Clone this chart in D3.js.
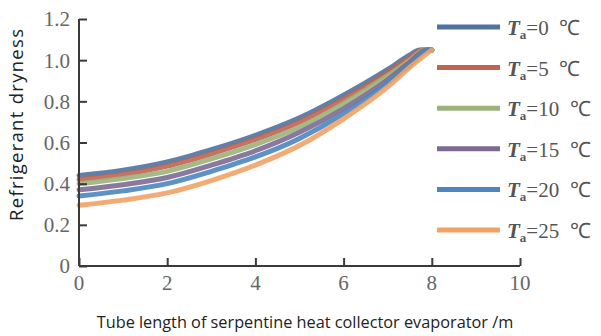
<!DOCTYPE html>
<html>
<head>
<meta charset="utf-8">
<script src="https://cdn.jsdelivr.net/npm/d3@7"></script>
<style>
  html, body { margin: 0; padding: 0; background: #fff; }
  svg { display: block; }
</style>
</head>
<body>
<svg id="chart" width="601" height="336"></svg>
<script>
// ─── Data ────────────────────────────────────────────────────────────
const xTicks = [0, 2, 4, 6, 8, 10];
const yTicks = [0, 0.2, 0.4, 0.6, 0.8, 1.0, 1.2];
const seriesNames = ["0", "5", "10", "15", "20", "25"];
const tubeLength = [0, 1, 2, 3, 4, 5, 6, 7, 7.5];
const dryness0 = [0.44, 0.465, 0.505, 0.565, 0.635, 0.72, 0.83, 0.955, 1.025];
const dryness5 = [0.42, 0.445, 0.485, 0.545, 0.615, 0.70, 0.81, 0.94, 1.012];
const dryness10 = [0.40, 0.425, 0.46, 0.52, 0.59, 0.675, 0.79, 0.925, 1.0];
const dryness15 = [0.37, 0.395, 0.43, 0.49, 0.56, 0.65, 0.765, 0.905, 0.99];
const dryness20 = [0.34, 0.365, 0.40, 0.46, 0.53, 0.62, 0.74, 0.89, 0.975];
const dryness25 = [0.295, 0.32, 0.355, 0.415, 0.49, 0.585, 0.715, 0.87, 0.965];
// point where each curve reaches the plateau, then flat to 8 m
const peakLength = [7.72, 7.78, 7.83, 7.88, 7.94, 8.0];
const peakDryness = 1.05;
const endLength = 8.0;
const colors = ["#50729f", "#c0644f", "#9cb27c", "#7c6a92", "#4d86bf", "#f1a265"];

const allSeries = [dryness0, dryness5, dryness10, dryness15, dryness20, dryness25];

// ─── Layout ──────────────────────────────────────────────────────────
const svg = d3.select("#chart");
const x = d3.scaleLinear().domain([0, 10]).range([79, 520]);
const y = d3.scaleLinear().domain([0, 1.2]).range([266, 19]);
const serif = "'Liberation Serif', 'Times New Roman', serif";
const sans = "'Open Sans', 'Noto Sans', sans-serif";

// ─── Curves ──────────────────────────────────────────────────────────
const line = d3.line()
  .x((d) => x(d[0]))
  .y((d) => y(d[1]))
  .curve(d3.curveMonotoneX);

allSeries.forEach((vals, i) => {
  const pts = tubeLength.map((t, j) => [t, vals[j]]);
  pts.push([peakLength[i], peakDryness]);
  if (peakLength[i] < endLength) pts.push([endLength, peakDryness]);
  svg.append("path")
    .datum(pts)
    .attr("fill", "none")
    .attr("stroke", colors[i])
    .attr("stroke-width", 5)
    .attr("stroke-opacity", 0.9)
    .attr("stroke-linecap", "round")
    .attr("d", line);
});

// ─── Axes ────────────────────────────────────────────────────────────
const xAxis = svg.append("g")
  .attr("transform", `translate(0,${y(0)})`)
  .call(d3.axisTop(x).tickValues(xTicks).tickSize(8).tickFormat(() => ""));
const yAxis = svg.append("g")
  .attr("transform", `translate(${x(0)},0)`)
  .call(d3.axisRight(y).tickValues(yTicks).tickSize(8).tickFormat(() => ""));

[xAxis, yAxis].forEach((ax) => {
  ax.select(".domain").attr("stroke", "#3a3a3a").attr("stroke-width", 2);
  ax.selectAll(".tick line").attr("stroke", "#3a3a3a").attr("stroke-width", 2);
});
xAxis.select(".domain").attr("d", `M${x(0)},0H${x(10)}`);
yAxis.select(".domain").attr("d", `M0,${y(0)}V${y(1.2)}`);

svg.append("g").selectAll("text")
  .data(xTicks)
  .join("text")
  .attr("x", (d) => x(d))
  .attr("y", 290)
  .attr("text-anchor", "middle")
  .attr("font-family", serif)
  .attr("font-size", 21)
  .attr("fill", "#666")
  .text((d) => d);

svg.append("g").selectAll("text")
  .data(yTicks)
  .join("text")
  .attr("x", 70)
  .attr("y", (d) => y(d))
  .attr("dy", "0.35em")
  .attr("text-anchor", "end")
  .attr("font-family", serif)
  .attr("font-size", 21)
  .attr("fill", "#666")
  .text((d) => (d === 0 ? "0" : d3.format(".1f")(d)));

// ─── Axis titles ─────────────────────────────────────────────────────
svg.append("text")
  .attr("x", 305)
  .attr("y", 328)
  .attr("text-anchor", "middle")
  .attr("font-family", sans)
  .attr("font-size", 16.3)
  .attr("fill", "#222")
  .text("Tube length of serpentine heat collector evaporator /m");

svg.append("text")
  .attr("transform", "translate(23,125) rotate(-90)")
  .attr("text-anchor", "middle")
  .attr("font-family", sans)
  .attr("font-size", 18.5)
  .attr("textLength", 192)
  .attr("lengthAdjust", "spacing")
  .attr("fill", "#222")
  .text("Refrigerant dryness");

// ─── Legend ──────────────────────────────────────────────────────────
const legend = svg.append("g");
seriesNames.forEach((name, i) => {
  const ly = 27 + i * 40.6;
  legend.append("line")
    .attr("x1", 437).attr("x2", 500)
    .attr("y1", ly).attr("y2", ly)
    .attr("stroke", colors[i])
    .attr("stroke-width", 5);
  const t = legend.append("text")
    .attr("x", 507)
    .attr("y", ly + 8)
    .attr("font-family", serif)
    .attr("font-size", 21)
    .attr("fill", "#555");
  t.append("tspan").attr("font-style", "italic").attr("font-weight", "bold").text("T");
  t.append("tspan").attr("font-size", 13).attr("font-weight", "bold").attr("dy", 4).text("a");
  t.append("tspan").attr("dy", -4).text(`=${name}\u2002℃`);
});
</script>
</body>
</html>
